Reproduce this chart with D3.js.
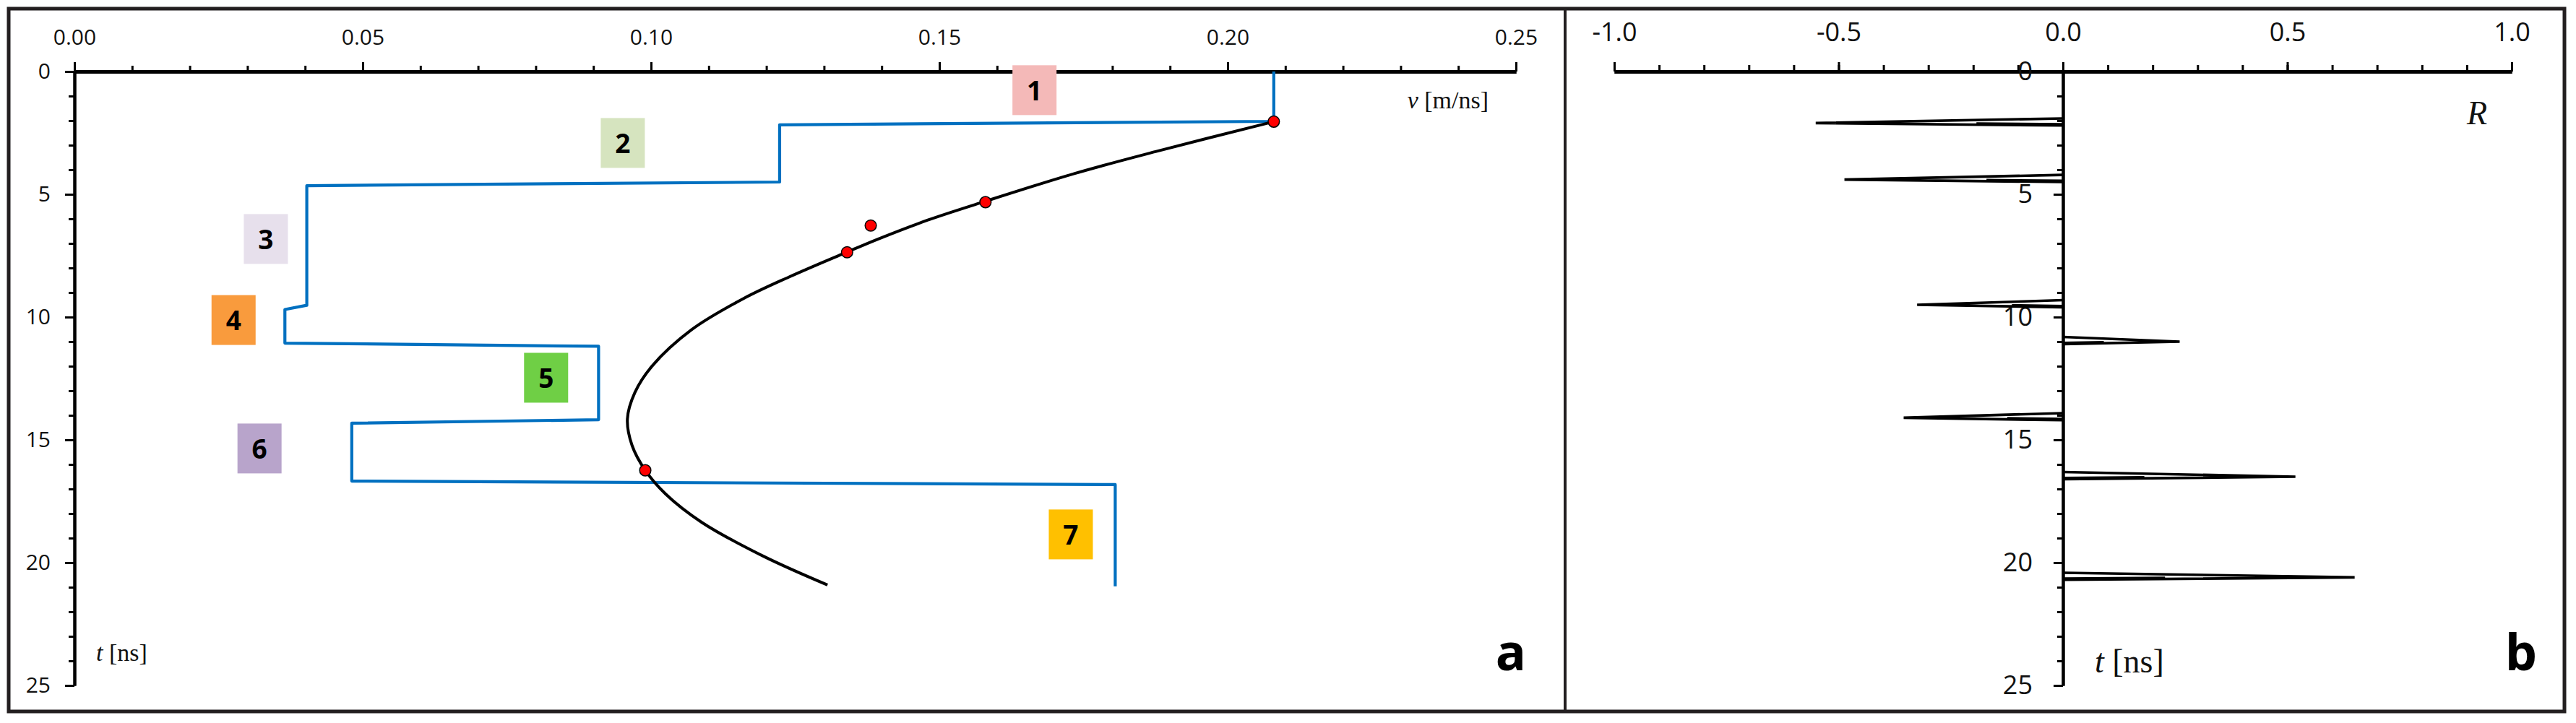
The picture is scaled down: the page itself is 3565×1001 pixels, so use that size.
<!DOCTYPE html>
<html>
<head>
<meta charset="utf-8">
<script src="https://cdn.jsdelivr.net/npm/d3@7/dist/d3.min.js"></script>
<style>
  html, body { margin: 0; padding: 0; background: #fff; }
  svg { display: block; }
</style>
</head>
<body>
<svg id="chart" width="3565" height="1001"></svg>
<script>
// ---------------- DATA ----------------
// Panel a: interval velocity model (step line), v [m/ns] vs t [ns]
const stepV = [0.208, 0.208, 0.1223, 0.1223, 0.0403, 0.0403, 0.0365, 0.0365, 0.0909, 0.0909, 0.0481, 0.0481, 0.1805, 0.1805];
const stepT = [0.0, 2.03, 2.17, 4.50, 4.65, 9.52, 9.69, 11.06, 11.19, 14.18, 14.32, 16.68, 16.82, 20.96];

// Panel a: fitted curve
const curveV = [0.2080, 0.1875, 0.1735, 0.1575, 0.1480, 0.1395, 0.1335, 0.1240, 0.1160, 0.1070, 0.1002, 0.0972, 0.0959, 0.0967, 0.0990, 0.1025, 0.1088, 0.1195, 0.1306];
const curveT = [2.04, 3.26, 4.15, 5.32, 6.05, 6.81, 7.40, 8.36, 9.25, 10.52, 11.99, 13.07, 14.15, 15.22, 16.24, 17.20, 18.36, 19.74, 20.91];

// Panel a: measured points (red)
const pointV = [0.208, 0.158, 0.1381, 0.134, 0.099];
const pointT = [2.04, 5.32, 6.27, 7.36, 16.24];

// Panel a: layer labels
const layerNames = ["1", "2", "3", "4", "5", "6", "7"];
const layerV = [0.1665, 0.0951, 0.0332, 0.0276, 0.0818, 0.0321, 0.1728];
const layerT = [0.76, 2.91, 6.82, 10.12, 12.47, 15.35, 18.85];

// Panel b: reflection coefficients
const spikeT = [2.10, 4.40, 9.50, 11.00, 14.10, 16.50, 20.60];
const spikeR = [-0.551, -0.487, -0.325, 0.260, -0.355, 0.518, 0.650];

// Axis ticks
const vTicks = [0.00, 0.05, 0.10, 0.15, 0.20, 0.25];
const tTicks = [0, 5, 10, 15, 20, 25];
const rTicks = [-1.0, -0.5, 0.0, 0.5, 1.0];

// ---------------- STYLES ----------------
const layerColors = ["#f4b9b8", "#d6e4bf", "#e7e0ec", "#f99b3d", "#6fcf45", "#b8a4cb", "#ffc000"];
const tickFont = "'Open Sans', 'DejaVu Sans', sans-serif";
const serifFont = "'Liberation Serif', 'DejaVu Serif', serif";

const svg = d3.select("#chart");

// ---------------- SCALES ----------------
const xA = d3.scaleLinear().domain([0, 0.25]).range([103, 2098]);
const yT = d3.scaleLinear().domain([0, 25]).range([99, 949]);
const xB = d3.scaleLinear().domain([-1, 1]).range([2234, 3476]);

// ---------------- FRAME ----------------
svg.append("rect").attr("x", 12).attr("y", 12).attr("width", 3537).attr("height", 973)
  .attr("fill", "none").attr("stroke", "#231f20").attr("stroke-width", 5);
svg.append("line").attr("x1", 2166).attr("x2", 2166).attr("y1", 12).attr("y2", 985)
  .attr("stroke", "#231f20").attr("stroke-width", 4);

function styleAxis(g, fontSize, domainWidth) {
  g.select(".domain").attr("stroke", "#000").attr("stroke-width", domainWidth);
  g.selectAll(".tick line").attr("stroke", "#000").attr("stroke-width", 3);
  g.selectAll(".tick text").attr("font-family", tickFont).attr("font-size", fontSize).attr("fill", "#111");
}

// ---------------- PANEL A ----------------
const gA = svg.append("g");

gA.append("g").attr("transform", `translate(0,${yT(0)})`)
  .call(d3.axisTop(xA).tickValues(d3.range(0, 26).map(i => i / 100)).tickSize(8).tickSizeOuter(0).tickFormat(""))
  .call(g => styleAxis(g, 30, 5));
gA.append("g").attr("transform", `translate(0,${yT(0)})`)
  .call(d3.axisTop(xA).tickValues(vTicks).tickSize(13).tickSizeOuter(0).tickPadding(24).tickFormat(d => d.toFixed(2)))
  .call(g => styleAxis(g, 30, 5));
gA.append("g").attr("transform", `translate(${xA(0)},0)`)
  .call(d3.axisLeft(yT).tickValues(d3.range(0, 26)).tickSize(8).tickSizeOuter(0).tickFormat(""))
  .call(g => styleAxis(g, 30, 4));
gA.append("g").attr("transform", `translate(${xA(0)},0)`)
  .call(d3.axisLeft(yT).tickValues(tTicks).tickSize(13).tickSizeOuter(0).tickPadding(20).tickFormat(d => d))
  .call(g => styleAxis(g, 30, 4));

const vt = gA.append("text").attr("x", 2060).attr("y", 150).attr("text-anchor", "end")
  .attr("font-family", serifFont).attr("font-size", 34).attr("fill", "#111");
vt.append("tspan").attr("font-style", "italic").text("v");
vt.append("tspan").text(" [m/ns]");
const tt = gA.append("text").attr("x", 133).attr("y", 915)
  .attr("font-family", serifFont).attr("font-size", 34).attr("fill", "#111");
tt.append("tspan").attr("font-style", "italic").text("t");
tt.append("tspan").text(" [ns]");

const labG = gA.append("g");
layerNames.forEach((name, i) => {
  const cx = xA(layerV[i]), cy = yT(layerT[i]);
  labG.append("rect").attr("x", cx - 30.5).attr("y", cy - 34.5).attr("width", 61).attr("height", 69)
    .attr("fill", layerColors[i]);
  labG.append("text").attr("x", cx).attr("y", cy + 14).attr("text-anchor", "middle")
    .attr("font-family", tickFont).attr("font-weight", 700).attr("font-size", 37).attr("fill", "#000")
    .text(name);
});

const stepData = stepV.map((v, i) => [v, stepT[i]]);
gA.append("path").datum(stepData)
  .attr("d", d3.line().x(d => xA(d[0])).y(d => yT(d[1])))
  .attr("fill", "none").attr("stroke", "#0070c0").attr("stroke-width", 4.2)
  .attr("stroke-linejoin", "round");

const curveData = curveV.map((v, i) => [v, curveT[i]]);
gA.append("path").datum(curveData)
  .attr("d", d3.line().x(d => xA(d[0])).y(d => yT(d[1])).curve(d3.curveCatmullRom.alpha(0.5)))
  .attr("fill", "none").attr("stroke", "#000").attr("stroke-width", 4);

gA.selectAll("circle.pt").data(pointV.map((v, i) => [v, pointT[i]])).enter()
  .append("circle").attr("class", "pt")
  .attr("cx", d => xA(d[0])).attr("cy", d => yT(d[1])).attr("r", 7.8)
  .attr("fill", "#ff0000").attr("stroke", "#000").attr("stroke-width", 1.5);

gA.append("text").attr("x", 2091).attr("y", 928).attr("text-anchor", "middle")
  .attr("font-family", tickFont).attr("font-weight", 700).attr("font-size", 70).attr("fill", "#000").text("a");

// ---------------- PANEL B ----------------
const gB = svg.append("g");

gB.append("g").attr("transform", `translate(0,${yT(0)})`)
  .call(d3.axisTop(xB).tickValues(d3.range(-10, 11).map(i => i / 10)).tickSize(9).tickSizeOuter(0).tickFormat(""))
  .call(g => styleAxis(g, 36, 5));
gB.append("g").attr("transform", `translate(0,${yT(0)})`)
  .call(d3.axisTop(xB).tickValues(rTicks).tickSize(13).tickSizeOuter(0).tickPadding(29).tickFormat(d => d.toFixed(1)))
  .call(g => styleAxis(g, 36, 5));
gB.append("g").attr("transform", `translate(${xB(0)},0)`)
  .call(d3.axisLeft(yT).tickValues(d3.range(0, 26)).tickSize(8).tickSizeOuter(0).tickFormat(""))
  .call(g => styleAxis(g, 36, 4));
gB.append("g").attr("transform", `translate(${xB(0)},0)`)
  .call(d3.axisLeft(yT).tickValues(tTicks).tickSize(13).tickSizeOuter(0).tickPadding(29).tickFormat(d => d))
  .call(g => styleAxis(g, 36, 4));

const spikeG = gB.append("g");
spikeT.forEach((t, i) => {
  const r = spikeR[i];
  const outer = [[0, t - 0.19], [r, t], [0, t + 0.10]];
  spikeG.append("path")
    .attr("d", d3.line().x(d => xB(d[0])).y(d => yT(d[1]))(outer))
    .attr("fill", "none").attr("stroke", "#000").attr("stroke-width", 3.6).attr("stroke-linejoin", "miter");
  const inner = [[r * 0.35, t + 0.0], [0, t + 0.03]];
  spikeG.append("path")
    .attr("d", d3.line().x(d => xB(d[0])).y(d => yT(d[1]))(inner))
    .attr("fill", "none").attr("stroke", "#000").attr("stroke-width", 2.2);
});

gB.append("text").attr("x", 3428).attr("y", 172).attr("text-anchor", "middle")
  .attr("font-family", serifFont).attr("font-style", "italic").attr("font-size", 46).attr("fill", "#111").text("R");
const tb = gB.append("text").attr("x", 2899).attr("y", 931)
  .attr("font-family", serifFont).attr("font-size", 46).attr("fill", "#111");
tb.append("tspan").attr("font-style", "italic").text("t");
tb.append("tspan").text(" [ns]");

gB.append("text").attr("x", 3489).attr("y", 928).attr("text-anchor", "middle")
  .attr("font-family", tickFont).attr("font-weight", 700).attr("font-size", 70).attr("fill", "#000").text("b");
</script>
</body>
</html>
